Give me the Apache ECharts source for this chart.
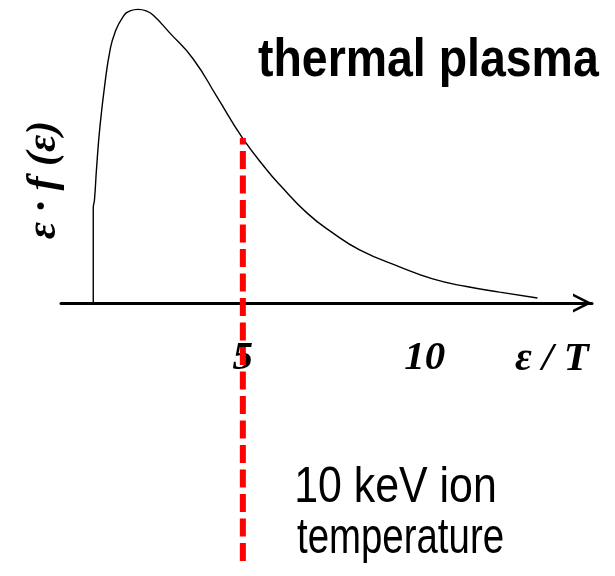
<!DOCTYPE html>
<html>
<head>
<meta charset="utf-8">
<script src="https://cdn.jsdelivr.net/npm/echarts@6/dist/echarts.min.js"></script>
<style>html,body{margin:0;padding:0;background:#fff}#c{width:615px;height:576px}</style>
</head>
<body>
<div id="c"></div>
<script>
// energy in units of T (epsilon / T)
var energy = [0.887, 0.887, 0.92, 0.98, 1.07, 1.21, 1.35, 1.48, 1.70, 1.90, 2.12, 2.34, 2.53, 2.99, 3.63, 4.29, 4.97, 5.66, 6.02, 6.76, 7.47, 8.21, 9.31, 10.22, 11.15, 12.06, 13.10];
// epsilon * f(epsilon), normalised to peak = 1
var density = [0, 0.324, 0.351, 0.463, 0.600, 0.750, 0.862, 0.920, 0.974, 0.995, 1.0, 0.995, 0.981, 0.920, 0.832, 0.702, 0.566, 0.453, 0.402, 0.307, 0.239, 0.181, 0.123, 0.082, 0.056, 0.037, 0.017];
// vertical marker: 10 keV ion temperature at epsilon/T = 5 (drawn bottom to top)
var markerX = [5, 5];
var markerY = [-0.879, 0.562];
var tickLabels = {5: '5', 10: '10'};

var curve = energy.map(function (x, i) { return [x, density[i]]; });
var marker = markerX.map(function (x, i) { return [x, markerY[i]]; });

var chart = echarts.init(document.getElementById('c'));
chart.setOption({
  animation: false,
  backgroundColor: '#fff',
  grid: {left: 61, right: 23, top: 0, bottom: 273, outerBoundsMode: 'none', containLabel: false},
  xAxis: {
    type: 'value', min: 0, max: 14.6, interval: 5,
    axisLine: {
      show: true, onZero: false,
      lineStyle: {color: '#000', width: 3},
      symbol: ['none', 'path://M0,20 L10,0 L20,20 L17,20 L10,6 L3,20 Z'],
      symbolSize: [20, 19],
      symbolOffset: [0, -9.5]
    },
    axisTick: {show: false},
    splitLine: {show: false},
    axisLabel: {
      margin: 35,
      color: '#000',
      fontFamily: 'Liberation Serif',
      fontStyle: 'italic', fontWeight: 'bold', fontSize: 41,
      formatter: function (v) { return tickLabels[v] || ''; }
    }
  },
  yAxis: {
    type: 'value', min: 0, max: 1.032,
    show: false, splitLine: {show: false}
  },
  graphic: [
    {type: 'text', x: 258, y: 34, scaleX: 0.86, style: {text: 'thermal plasma', fill: '#000', font: 'bold 54px "Liberation Sans", sans-serif'}},
    {type: 'text', x: 395.5, y: 463, scaleX: 0.857, style: {text: '10 keV ion', fill: '#000', align: 'center', font: '50px "Liberation Sans", sans-serif'}},
    {type: 'text', x: 400.5, y: 514, scaleX: 0.768, style: {text: 'temperature', fill: '#000', align: 'center', font: '50px "Liberation Sans", sans-serif'}},
    {type: 'text', x: 515, y: 339, style: {text: 'ε / T', fill: '#000', font: 'italic bold 41px "Liberation Serif", serif'}},
    {type: 'text', x: 44, y: 180, rotation: Math.PI / 2, style: {text: 'ε · f (ε)', fill: '#000', align: 'center', verticalAlign: 'middle', font: 'italic bold 42px "Liberation Serif", serif'}}
  ],
  series: [
    {type: 'line', data: curve, smooth: 0.5, showSymbol: false, lineStyle: {color: '#000', width: 1.4}},
    {type: 'line', data: marker, clip: false, showSymbol: false, lineStyle: {color: '#ff0000', width: 6, type: [18, 6.5]}, z: 3}
  ]
});
</script>
</body>
</html>
